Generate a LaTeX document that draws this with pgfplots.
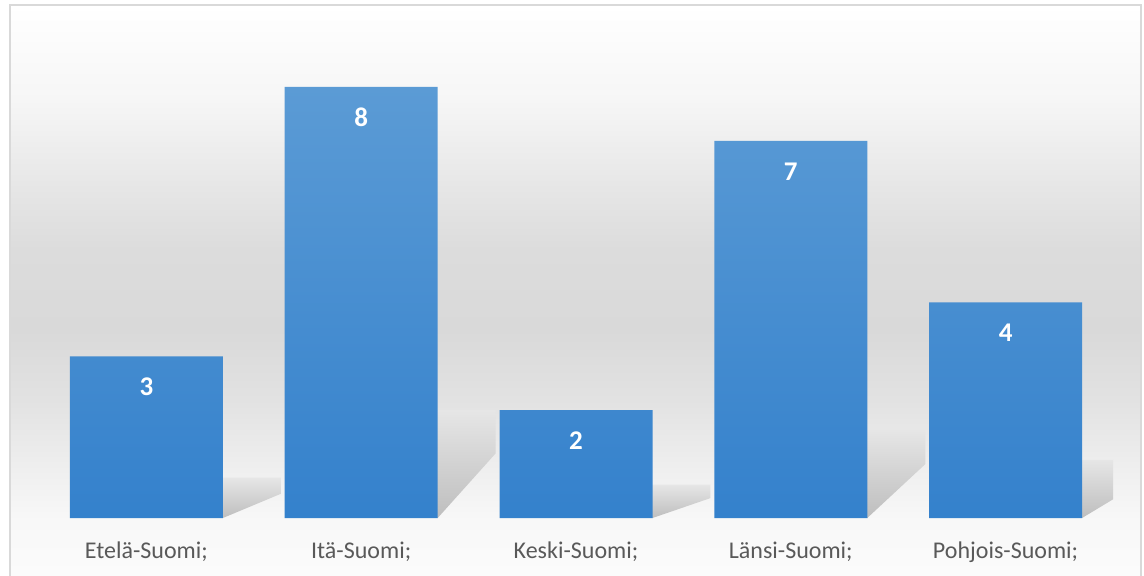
\documentclass[border=0pt]{standalone}
\usepackage{pgfplots}
\pgfplotsset{compat=1.18}
\usepackage{fontspec}
\setmainfont{Carlito}
\definecolor{bartop}{HTML}{5B9BD5}
\definecolor{barbot}{HTML}{3481CC}
\definecolor{labelgray}{HTML}{595959}
\definecolor{framegray}{HTML}{D9D9D9}
\definecolor{shtop}{HTML}{E6E6E6}
\definecolor{shbot}{HTML}{BEBEBE}
\definecolor{bg0}{HTML}{FBFBFB}
\definecolor{bg1}{HTML}{F8F8F8}
\definecolor{bg2}{HTML}{EFEFEF}
\definecolor{bg3}{HTML}{E2E2E2}
\definecolor{bg4}{HTML}{D9D9D9}
\definecolor{bg5}{HTML}{DCDCDC}
\definecolor{bg6}{HTML}{E4E4E4}
\definecolor{bg7}{HTML}{F6F6F6}
\definecolor{bg8}{HTML}{FFFFFF}
\pgfdeclareverticalshading{bgshade}{100bp}{color(0bp)=(bg0); color(25bp)=(bg0); color(29.8bp)=(bg1); color(34.2bp)=(bg2); color(40.4bp)=(bg3); color(46.5bp)=(bg4); color(53.5bp)=(bg5); color(57.9bp)=(bg6); color(66.7bp)=(bg7); color(75bp)=(bg8); color(100bp)=(bg8)}
\begin{document}
\begin{tikzpicture}
\fill[shading=bgshade] (-14.5pt,-28.5pt) rectangle (551pt,256.5pt);
\begin{axis}[
  at={(0,0)}, anchor=south west,
  scale only axis, width=537pt, height=242.5pt,
  xmin=-0.5, xmax=4.5, ymin=0, ymax=9,
  axis line style={draw=none},
  tick style={draw=none},
  major tick length=0pt,
  ytick=\empty,
  xtick={0,1,2,3,4},
  xticklabels={Etelä-Suomi;, Itä-Suomi;, Keski-Suomi;, Länsi-Suomi;, Pohjois-Suomi;},
  xticklabel style={font=\fontsize{12}{14}\selectfont, text=labelgray, anchor=base, yshift=-20pt},
  /pgf/number format/assume math mode=true,
]
% shadows
\addplot[draw=none, top color=shtop, bottom color=shbot] coordinates {(0.356,0) (0.356,0.75) (0.626,0.75) (0.626,0.45)} -- cycle;
\addplot[draw=none, top color=shtop, bottom color=shbot] coordinates {(1.356,0) (1.356,2.0) (1.626,2.0) (1.626,1.2)} -- cycle;
\addplot[draw=none, top color=shtop, bottom color=shbot] coordinates {(2.356,0) (2.356,0.62) (2.626,0.62) (2.626,0.37)} -- cycle;
\addplot[draw=none, top color=shtop, bottom color=shbot] coordinates {(3.356,0) (3.356,1.63) (3.626,1.63) (3.626,1.0)} -- cycle;
\addplot[draw=none, top color=shtop, bottom color=shbot] coordinates {(4.356,0) (4.356,1.08) (4.626,1.08) (4.626,0.65)} -- cycle;
% bars
\addplot[ybar, bar width=76.5pt, draw=none, top color=bartop, bottom color=barbot,
  nodes near coords,
  every node near coord/.append style={font=\bfseries\fontsize{13.5}{15}\selectfont, text=white, anchor=center, yshift=-15.25pt}]
  coordinates {(0,3) (1,8) (2,2) (3,7) (4,4)};
\end{axis}
\draw[color=framegray, line width=0.75pt] (-14.5pt,-30pt) rectangle (551pt,256.5pt);
\pgfresetboundingbox
\useasboundingbox (-19.5pt,-28.5pt) rectangle (552.5pt,259pt);
\end{tikzpicture}
\end{document}
